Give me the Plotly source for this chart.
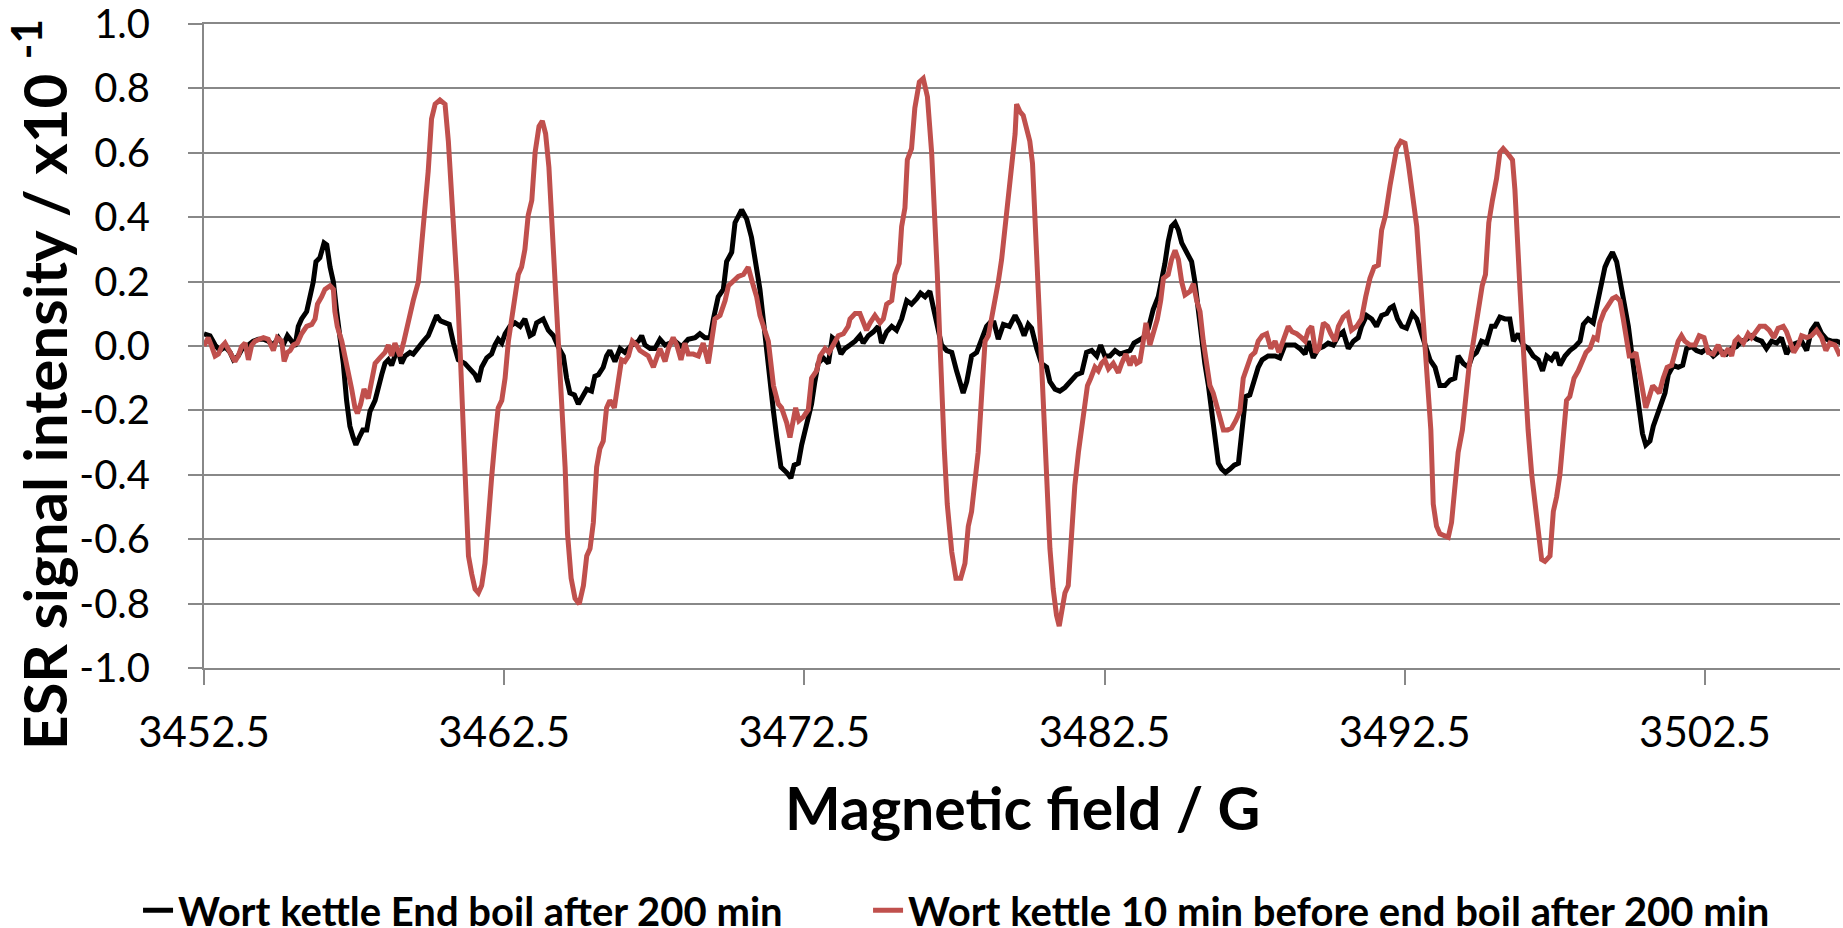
import plotly.graph_objects as go

# ESR spectra (field in gauss, intensity in units of 1e-1)
field_end_boil = [
    3452.50, 3452.70, 3452.87, 3453.03, 3453.20, 3453.37, 3453.48, 3453.64, 3453.81, 3453.98,
    3454.14, 3454.31, 3454.48, 3454.64, 3454.81, 3454.98, 3455.14, 3455.28, 3455.42, 3455.53,
    3455.64, 3455.75, 3455.92, 3456.03, 3456.14, 3456.23, 3456.36, 3456.50, 3456.59, 3456.70,
    3456.81, 3456.92, 3457.03, 3457.14, 3457.25, 3457.36, 3457.47, 3457.56, 3457.67, 3457.79,
    3457.92, 3458.03, 3458.20, 3458.31, 3458.42, 3458.53, 3458.64, 3458.75, 3458.86, 3458.97,
    3459.08, 3459.20, 3459.36, 3459.47, 3459.64, 3459.81, 3459.97, 3460.11, 3460.25, 3460.38,
    3460.53, 3460.67, 3460.81, 3460.97, 3461.19, 3461.36, 3461.53, 3461.64, 3461.75, 3461.92,
    3462.08, 3462.19, 3462.30, 3462.42, 3462.53, 3462.69, 3462.86, 3463.03, 3463.19,
    3463.36, 3463.47, 3463.58, 3463.80, 3463.97, 3464.14, 3464.30, 3464.47, 3464.58, 3464.69,
    3464.84, 3464.97, 3465.14, 3465.25, 3465.41, 3465.52, 3465.64, 3465.80, 3465.91, 3466.02,
    3466.19, 3466.36, 3466.52, 3466.75, 3466.97, 3467.08, 3467.19, 3467.36, 3467.52, 3467.69,
    3467.86, 3468.02, 3468.19, 3468.41, 3468.63, 3468.86, 3469.02, 3469.19, 3469.36, 3469.47,
    3469.63, 3469.80, 3469.91, 3470.08, 3470.19, 3470.41, 3470.58, 3470.74, 3470.91, 3471.02,
    3471.13, 3471.24, 3471.35, 3471.47, 3471.58, 3471.72, 3471.91, 3472.05, 3472.16, 3472.30,
    3472.41, 3472.58, 3472.74, 3472.85, 3472.96, 3473.13, 3473.30, 3473.43, 3473.58, 3473.72,
    3473.85, 3474.02,
    3474.19, 3474.35, 3474.46, 3474.63, 3474.80, 3474.96, 3475.07, 3475.24, 3475.41, 3475.57,
    3475.74, 3475.91, 3476.07, 3476.24, 3476.37, 3476.52, 3476.68, 3476.80, 3476.93, 3477.07,
    3477.24, 3477.41, 3477.57, 3477.68, 3477.79, 3477.91, 3478.07, 3478.24, 3478.41, 3478.57,
    3478.68, 3478.82, 3478.96, 3479.13, 3479.33, 3479.52, 3479.68, 3479.82, 3479.96, 3480.07,
    3480.24, 3480.40, 3480.57, 3480.68, 3480.85, 3481.01, 3481.18, 3481.35, 3481.57, 3481.74,
    3481.90, 3482.07, 3482.24, 3482.37, 3482.51, 3482.68, 3482.85, 3483.01, 3483.18, 3483.35,
    3483.48, 3483.62, 3483.79, 3483.96, 3484.12, 3484.29, 3484.40, 3484.51, 3484.62, 3484.73,
    3484.85,
    3484.96, 3485.07, 3485.23, 3485.40, 3485.51, 3485.62, 3485.73, 3485.84, 3485.96, 3486.07,
    3486.18, 3486.29, 3486.40, 3486.53, 3486.68, 3486.82, 3486.96, 3487.07, 3487.20, 3487.34,
    3487.51, 3487.62, 3487.75, 3487.95, 3488.18, 3488.34, 3488.51, 3488.68, 3488.84, 3489.01,
    3489.18, 3489.29, 3489.45, 3489.62, 3489.79, 3489.95, 3490.12, 3490.29, 3490.45, 3490.62,
    3490.79, 3490.95, 3491.06, 3491.23, 3491.40, 3491.56, 3491.73, 3491.90, 3492.01, 3492.12,
    3492.26, 3492.40, 3492.56, 3492.75, 3492.90, 3493.06, 3493.20, 3493.34, 3493.51, 3493.67,
    3493.84, 3494.01, 3494.17, 3494.28, 3494.45, 3494.62, 3494.75, 3494.89, 3495.06, 3495.23,
    3495.39, 3495.51, 3495.67,
    3495.84, 3496.00, 3496.12, 3496.28, 3496.45, 3496.62, 3496.78, 3496.95, 3497.09, 3497.23,
    3497.39, 3497.54, 3497.67, 3497.84, 3498.00, 3498.17, 3498.34, 3498.45, 3498.61, 3498.78,
    3498.91, 3499.06, 3499.17, 3499.28, 3499.42, 3499.56, 3499.67, 3499.78, 3499.95, 3500.06,
    3500.17, 3500.31, 3500.42, 3500.53, 3500.67, 3500.78, 3500.91, 3501.06, 3501.17, 3501.28,
    3501.45, 3501.61, 3501.76, 3501.89, 3502.06, 3502.22, 3502.39, 3502.56, 3502.78, 3503.00,
    3503.22, 3503.39, 3503.55, 3503.72, 3503.89, 3504.05, 3504.22, 3504.39, 3504.55, 3504.72,
    3504.89, 3505.05, 3505.22, 3505.39, 3505.55, 3505.72, 3505.89, 3506.05, 3506.22, 3506.39,
    3506.55, 3506.72, 3506.89, 3507.05,
]
signal_end_boil = [
    0.038, 0.032, 0.003, -0.014, -0.002, -0.020, -0.043, -0.031, -0.002, 0.003,
    0.015, 0.021, 0.021, 0.015, 0.003, 0.026, 0.003, 0.032, 0.015, -0.002,
    0.061, 0.084, 0.107, 0.153, 0.199, 0.262, 0.274, 0.320, 0.314, 0.245,
    0.199, 0.107, 0.026, -0.054, -0.169, -0.249, -0.284, -0.307, -0.284, -0.261,
    -0.261, -0.203, -0.169, -0.123, -0.089, -0.054, -0.043, -0.060, -0.031, -0.014,
    -0.054, -0.031, -0.020, -0.025, -0.002, 0.015, 0.032, 0.061, 0.095, 0.078,
    0.072, 0.067, 0.009, -0.043, -0.054, -0.071, -0.089, -0.111, -0.066, -0.037,
    -0.025, 0.003, 0.021, 0.009, 0.038, 0.061, 0.072, 0.061, 0.084,
    0.032, 0.038, 0.072, 0.084, 0.049, 0.032, -0.002, -0.031, -0.100, -0.146,
    -0.152, -0.180, -0.152, -0.134, -0.140, -0.094, -0.089, -0.066, -0.031, -0.014,
    -0.048, -0.008, -0.020, 0.003, 0.015, 0.032, 0.003, -0.008, -0.008, 0.021,
    0.003, 0.009, 0.015, -0.002, 0.021, 0.026, 0.038, 0.026, 0.026, 0.084,
    0.153, 0.176, 0.262, 0.291, 0.383, 0.423, 0.394, 0.337, 0.245, 0.176,
    0.084, -0.020, -0.123, -0.203, -0.284, -0.376, -0.393, -0.410, -0.370, -0.364,
    -0.307, -0.249, -0.180, -0.111, -0.054, -0.037, -0.054, 0.026, 0.015, -0.025,
    -0.008, 0.003,
    0.015, 0.032, 0.009, 0.032, 0.044, 0.061, 0.009, 0.044, 0.061, 0.049,
    0.084, 0.141, 0.130, 0.147, 0.164, 0.153, 0.170, 0.118, 0.061, 0.003,
    -0.014, -0.020, -0.077, -0.111, -0.146, -0.111, -0.031, -0.020, 0.026, 0.061,
    0.072, 0.072, 0.021, 0.067, 0.061, 0.095, 0.067, 0.032, 0.067, 0.055,
    -0.008, -0.054, -0.066, -0.111, -0.134, -0.140, -0.129, -0.111, -0.089, -0.083,
    -0.020, -0.014, -0.031, 0.003, -0.031, -0.031, -0.014, -0.025, -0.020, -0.014,
    0.009, 0.015, 0.026, 0.055, 0.113, 0.153, 0.199, 0.256, 0.325, 0.371,
    0.383,
    0.360, 0.320, 0.291, 0.262, 0.199, 0.107, 0.015, -0.054, -0.123, -0.203,
    -0.284, -0.364, -0.382, -0.393, -0.382, -0.370, -0.364, -0.261, -0.157, -0.152,
    -0.100, -0.066, -0.043, -0.031, -0.031, -0.037, 0.003, 0.003, 0.003, -0.008,
    -0.025, 0.015, -0.037, -0.008, -0.002, 0.009, 0.003, 0.032, 0.044, -0.008,
    0.015, 0.026, 0.061, 0.095, 0.084, 0.061, 0.095, 0.101, 0.118, 0.124,
    0.084, 0.061, 0.055, 0.101, 0.084, 0.038, -0.008, -0.043, -0.066, -0.123,
    -0.123, -0.106, -0.100, -0.031, -0.054, -0.066, -0.031, -0.020, 0.015, 0.009,
    0.061, 0.061, 0.090,
    0.084, 0.084, 0.015, 0.038, 0.003, -0.008, -0.031, -0.043, -0.077, -0.031,
    -0.043, -0.020, -0.060, -0.031, -0.014, -0.002, 0.015, 0.067, 0.084, 0.072,
    0.130, 0.187, 0.245, 0.268, 0.291, 0.262, 0.210, 0.141, 0.061, -0.020,
    -0.100, -0.203, -0.272, -0.307, -0.295, -0.249, -0.215, -0.180, -0.146, -0.089,
    -0.060, -0.066, -0.060, -0.008, -0.002, -0.014, -0.020, -0.008, -0.031, -0.014,
    -0.025, -0.008, -0.002, 0.015, 0.021, 0.032, 0.021, 0.015, -0.008, 0.015,
    0.009, 0.026, -0.025, 0.003, 0.009, 0.015, -0.014, 0.049, 0.072, 0.038,
    0.021, 0.015, 0.015, 0.009,
]

field_before_end = [
    3452.50, 3452.64, 3452.76, 3452.87, 3452.98, 3453.09, 3453.20, 3453.31, 3453.42, 3453.53,
    3453.64, 3453.75, 3453.87, 3453.98, 3454.09, 3454.20, 3454.34, 3454.48, 3454.64, 3454.81,
    3454.94, 3455.09, 3455.17, 3455.28, 3455.37, 3455.48, 3455.61, 3455.75, 3455.92, 3456.09,
    3456.20, 3456.28, 3456.42, 3456.53, 3456.70, 3456.81, 3456.86, 3456.94, 3457.09, 3457.20,
    3457.31, 3457.42, 3457.53, 3457.61, 3457.72, 3457.83, 3457.97, 3458.09, 3458.20, 3458.36,
    3458.53, 3458.64, 3458.75, 3458.86, 3459.03, 3459.16, 3459.31, 3459.47, 3459.64, 3459.75,
    3459.86, 3459.97, 3460.08, 3460.20, 3460.36, 3460.53, 3460.64, 3460.75, 3460.86, 3460.94,
    3461.03, 3461.12, 3461.19, 3461.31, 3461.42, 3461.53, 3461.64, 3461.75, 3461.86, 3461.97,
    3462.08, 3462.19, 3462.30, 3462.42, 3462.53, 3462.64, 3462.75, 3462.86, 3462.97, 3463.08,
    3463.19,
    3463.30, 3463.42, 3463.53, 3463.66, 3463.77, 3463.88, 3463.99, 3464.10, 3464.21, 3464.33,
    3464.41, 3464.53, 3464.61, 3464.73, 3464.86, 3465.00, 3465.14, 3465.25, 3465.36, 3465.47,
    3465.58, 3465.69, 3465.80, 3465.91, 3466.02, 3466.17, 3466.30, 3466.41, 3466.52, 3466.64,
    3466.77, 3466.91, 3467.02, 3467.13, 3467.30, 3467.47, 3467.58, 3467.69, 3467.86, 3467.97,
    3468.13, 3468.25, 3468.39, 3468.52, 3468.63, 3468.80, 3468.97, 3469.13, 3469.30, 3469.41,
    3469.52, 3469.69, 3469.86, 3469.97, 3470.13, 3470.30, 3470.47, 3470.63, 3470.80, 3470.91,
    3471.02, 3471.19, 3471.30, 3471.47, 3471.63, 3471.74, 3471.91, 3472.02, 3472.13, 3472.21,
    3472.32, 3472.46, 3472.63, 3472.74, 3472.91, 3473.02, 3473.19, 3473.32, 3473.46, 3473.63,
    3473.80, 3473.96,
    3474.02, 3474.19, 3474.35, 3474.49, 3474.57, 3474.69, 3474.85, 3475.02, 3475.13, 3475.24,
    3475.41, 3475.52, 3475.66, 3475.74, 3475.85, 3475.93, 3476.07, 3476.18, 3476.33, 3476.46,
    3476.60, 3476.74, 3476.85, 3476.93, 3477.00, 3477.07, 3477.16, 3477.26, 3477.41, 3477.55,
    3477.71, 3477.85, 3477.96, 3478.07, 3478.18, 3478.29, 3478.41, 3478.52, 3478.63, 3478.74,
    3478.85, 3478.96, 3479.07, 3479.18, 3479.29, 3479.40, 3479.52, 3479.57, 3479.68, 3479.79,
    3479.90, 3480.01, 3480.10, 3480.18, 3480.26, 3480.35, 3480.44, 3480.51, 3480.59, 3480.68,
    3480.79, 3480.90, 3480.99, 3481.10, 3481.18, 3481.29, 3481.40, 3481.51, 3481.63, 3481.74,
    3481.85, 3481.93, 3482.04, 3482.18, 3482.29, 3482.40, 3482.51, 3482.63, 3482.79, 3482.96,
    3483.07, 3483.21, 3483.35, 3483.46, 3483.57, 3483.68, 3483.79, 3483.88, 3484.01, 3484.12,
    3484.26, 3484.37, 3484.46, 3484.62, 3484.73, 3484.85,
    3484.96, 3485.07, 3485.18, 3485.35, 3485.46, 3485.57, 3485.68, 3485.79, 3485.90, 3486.01,
    3486.12, 3486.23, 3486.34, 3486.46, 3486.60, 3486.73, 3486.87, 3487.01, 3487.12, 3487.23,
    3487.38, 3487.51, 3487.62, 3487.75, 3487.90, 3488.04, 3488.18, 3488.31, 3488.45, 3488.62,
    3488.75, 3488.90, 3489.06, 3489.18, 3489.29, 3489.40, 3489.53, 3489.64, 3489.79, 3489.93,
    3490.04, 3490.18, 3490.29, 3490.45, 3490.60, 3490.73, 3490.90, 3491.06, 3491.20, 3491.34,
    3491.48, 3491.62, 3491.73, 3491.86, 3492.01, 3492.12, 3492.23, 3492.37, 3492.51, 3492.62,
    3492.78, 3492.90, 3493.01, 3493.12, 3493.20, 3493.28, 3493.37, 3493.45, 3493.56, 3493.67,
    3493.82, 3493.95, 3494.06, 3494.17, 3494.28, 3494.42, 3494.53, 3494.64, 3494.75, 3494.86,
    3494.97, 3495.08, 3495.19, 3495.30, 3495.42, 3495.56, 3495.67,
    3495.78, 3495.95, 3496.09, 3496.17, 3496.25, 3496.34, 3496.43, 3496.50, 3496.61, 3496.73,
    3496.84, 3496.95, 3497.06, 3497.17, 3497.34, 3497.45, 3497.56, 3497.67, 3497.78, 3497.89,
    3498.00, 3498.14, 3498.28, 3498.39, 3498.54, 3498.67, 3498.80, 3498.91, 3499.00, 3499.14,
    3499.28, 3499.42, 3499.54, 3499.67, 3499.78, 3499.89, 3499.98, 3500.09, 3500.20, 3500.31,
    3500.42, 3500.53, 3500.65, 3500.76, 3500.87, 3500.98, 3501.11, 3501.24, 3501.39, 3501.50,
    3501.61, 3501.72, 3501.83, 3502.00, 3502.17, 3502.31, 3502.47, 3502.61, 3502.78, 3502.94,
    3503.11, 3503.28, 3503.39, 3503.50, 3503.61, 3503.78, 3503.94, 3504.05, 3504.22, 3504.33,
    3504.50, 3504.64, 3504.80, 3504.94, 3505.11, 3505.22, 3505.33, 3505.46, 3505.61, 3505.72,
    3505.89, 3506.05, 3506.22, 3506.39, 3506.53, 3506.66, 3506.83, 3507.00,
]
signal_before_end = [
    0.000, 0.026, -0.002, -0.031, -0.025, -0.002, 0.009, -0.008, -0.025, -0.048,
    -0.031, -0.002, 0.009, -0.043, 0.003, 0.015, 0.021, 0.026, 0.021, -0.014,
    0.026, 0.015, -0.048, -0.020, -0.014, 0.003, 0.009, 0.038, 0.061, 0.067,
    0.084, 0.130, 0.153, 0.176, 0.187, 0.176, 0.107, 0.061, 0.015, -0.031,
    -0.089, -0.134, -0.192, -0.209, -0.180, -0.134, -0.163, -0.111, -0.054, -0.037,
    -0.020, 0.003, -0.031, 0.009, -0.031, 0.015, 0.084, 0.141, 0.199, 0.314,
    0.406, 0.544, 0.705, 0.751, 0.764, 0.751, 0.636, 0.486, 0.337, 0.176,
    -0.008, -0.203, -0.433, -0.652, -0.709, -0.755, -0.767, -0.744, -0.675, -0.525,
    -0.410, -0.295, -0.192, -0.169, -0.100, 0.015, 0.084, 0.176, 0.222, 0.245,
    0.300,
    0.406, 0.452, 0.601, 0.682, 0.699, 0.659, 0.555, 0.360, 0.199, -0.008,
    -0.169, -0.376, -0.583, -0.721, -0.784, -0.801, -0.744, -0.652, -0.629, -0.548,
    -0.376, -0.318, -0.295, -0.192, -0.169, -0.192, -0.111, -0.043, -0.048, -0.031,
    0.015, 0.003, -0.014, -0.020, -0.031, -0.066, -0.031, -0.008, -0.048, -0.008,
    0.026, 0.003, -0.043, 0.009, -0.025, -0.025, -0.031, 0.009, -0.054, 0.015,
    0.084, 0.095, 0.141, 0.187, 0.199, 0.216, 0.222, 0.245, 0.187, 0.153,
    0.095, 0.049, 0.015, -0.123, -0.180, -0.192, -0.238, -0.284, -0.238, -0.192,
    -0.232, -0.221, -0.198, -0.100, -0.077, -0.031, -0.008, -0.020, 0.003, 0.032,
    0.038, 0.061,
    0.084, 0.101, 0.101, 0.072, 0.049, 0.072, 0.095, 0.072, 0.084, 0.130,
    0.141, 0.222, 0.256, 0.371, 0.429, 0.578, 0.613, 0.739, 0.820, 0.831,
    0.774, 0.601, 0.406, 0.222, 0.049, -0.146, -0.318, -0.491, -0.640, -0.721,
    -0.721, -0.675, -0.560, -0.514, -0.410, -0.330, -0.146, 0.015, 0.032, 0.084,
    0.141, 0.199, 0.268, 0.360, 0.440, 0.544, 0.659, 0.751, 0.728, 0.716,
    0.682, 0.636, 0.567, 0.406, 0.222, -0.008, -0.146, -0.318, -0.491, -0.629,
    -0.755, -0.836, -0.870, -0.801, -0.767, -0.744, -0.583, -0.433, -0.330, -0.261,
    -0.169, -0.123, -0.100, -0.066, -0.077, -0.054, -0.043, -0.071, -0.054, -0.083,
    -0.054, -0.025, -0.060, -0.031, -0.054, -0.048, 0.015, 0.072, 0.003, 0.038,
    0.084, 0.141, 0.210, 0.222, 0.268, 0.297,
    0.268, 0.199, 0.159, 0.170, 0.193, 0.141, 0.107, 0.015, -0.066, -0.123,
    -0.146, -0.180, -0.226, -0.261, -0.261, -0.255, -0.232, -0.203, -0.100, -0.066,
    -0.031, -0.020, 0.015, 0.032, 0.038, -0.008, 0.015, -0.020, 0.015, 0.061,
    0.044, 0.038, 0.026, 0.015, 0.049, 0.061, -0.020, -0.008, 0.072, 0.061,
    0.038, 0.015, 0.061, 0.090, 0.101, 0.049, 0.061, 0.084, 0.153, 0.210,
    0.245, 0.251, 0.360, 0.406, 0.498, 0.567, 0.613, 0.636, 0.630, 0.567,
    0.452, 0.371, 0.222, 0.084, -0.031, -0.146, -0.261, -0.491, -0.560, -0.583,
    -0.589, -0.594, -0.548, -0.433, -0.330, -0.261, -0.146, -0.066, -0.008, 0.061,
    0.141, 0.187, 0.222, 0.383, 0.452, 0.521, 0.601,
    0.613, 0.595, 0.578, 0.486, 0.314, 0.176, 0.026, -0.100, -0.261, -0.399,
    -0.491, -0.583, -0.663, -0.669, -0.652, -0.514, -0.468, -0.399, -0.272, -0.169,
    -0.157, -0.100, -0.077, -0.054, -0.020, -0.008, 0.026, 0.021, 0.072, 0.107,
    0.130, 0.147, 0.153, 0.141, 0.084, 0.026, -0.031, -0.031, -0.020, -0.077,
    -0.146, -0.192, -0.157, -0.123, -0.134, -0.146, -0.100, -0.066, -0.060, -0.020,
    0.015, 0.032, 0.015, 0.003, 0.003, 0.032, 0.026, -0.020, -0.025, 0.003,
    -0.031, -0.008, -0.031, 0.015, 0.026, 0.009, 0.038, 0.026, 0.044, 0.061,
    0.061, 0.049, 0.026, 0.055, 0.061, 0.044, 0.015, -0.020, 0.003, 0.032,
    0.026, 0.032, 0.049, 0.026, -0.014, 0.009, 0.003, -0.031,
]

series_names = [
    "Wort kettle End boil after 200 min",
    "Wort kettle 10 min before end boil after 200 min",
]
series_colors = ["#000000", "#C0504D"]

x_tick_values = [3452.5, 3462.5, 3472.5, 3482.5, 3492.5, 3502.5]
y_tick_values = [-1.0, -0.8, -0.6, -0.4, -0.2, 0.0, 0.2, 0.4, 0.6, 0.8, 1.0]

FONT = "Lato, 'Open Sans', Arial, sans-serif"
GRID = "#888888"
LEGEND_FONT = dict(family=FONT, size=40, weight="bold", color="black")

fig = go.Figure()
for fx, fy, name, color, legend_id in [
    (field_end_boil, signal_end_boil, series_names[0], series_colors[0], "legend"),
    (field_before_end, signal_before_end, series_names[1], series_colors[1], "legend2"),
]:
    fig.add_trace(go.Scatter(
        x=fx, y=fy, mode="lines", name=name, legend=legend_id,
        line=dict(color=color, width=5),
    ))

fig.update_layout(
    width=1843, height=928, autosize=False,
    margin=dict(l=204, r=3, t=24, b=260, autoexpand=False),
    paper_bgcolor="white", plot_bgcolor="white",
    font=dict(family=FONT, color="black"),
    showlegend=True,
    legend=dict(
        orientation="h", xref="container", x=0.0749, xanchor="left",
        yref="paper", y=-0.376, yanchor="middle",
        font=LEGEND_FONT, bgcolor="rgba(0,0,0,0)",
    ),
    legend2=dict(
        orientation="h", xref="container", x=0.471, xanchor="left",
        yref="paper", y=-0.376, yanchor="middle",
        font=LEGEND_FONT, bgcolor="rgba(0,0,0,0)",
    ),
    xaxis=dict(
        range=[3452.5, 3507.0],
        tickvals=x_tick_values,
        ticktext=[f"{v:.1f}" for v in x_tick_values],
        tickangle=0,
        ticks="outside", ticklen=15, tickwidth=2, tickcolor=GRID,
        showgrid=False, zeroline=False,
        showline=True, linecolor=GRID, linewidth=2, mirror=True,
        tickfont=dict(family=FONT, size=42, color="black"),
        ticklabelstandoff=12,
    ),
    yaxis=dict(
        range=[-1.0, 1.0],
        tickvals=y_tick_values,
        ticktext=[f"{v:.1f}".replace("-0.0", "0.0") for v in y_tick_values],
        ticks="outside", ticklen=14, tickwidth=2, tickcolor=GRID,
        showgrid=True, gridcolor=GRID, gridwidth=2, zeroline=False,
        showline=True, linecolor=GRID, linewidth=2,
        tickfont=dict(family=FONT, size=40, color="black"),
        ticklabelstandoff=30, ticklabeloverflow="allow",
    ),
    annotations=[
        dict(
            text="Magnetic field / G", showarrow=False,
            xref="paper", yref="paper", x=0.5, y=-0.216,
            xanchor="center", yanchor="middle",
            font=dict(family=FONT, size=59, weight="bold", color="black"),
        ),
        dict(
            text="ESR signal intensity / x10 <sup>-1</sup>", showarrow=False,
            textangle=-90,
            xref="paper", yref="paper", x=-0.1002, y=0.4394,
            xanchor="center", yanchor="middle",
            font=dict(family=FONT, size=60, weight="bold", color="black"),
        ),
    ],
)

fig.write_html("out.html")
